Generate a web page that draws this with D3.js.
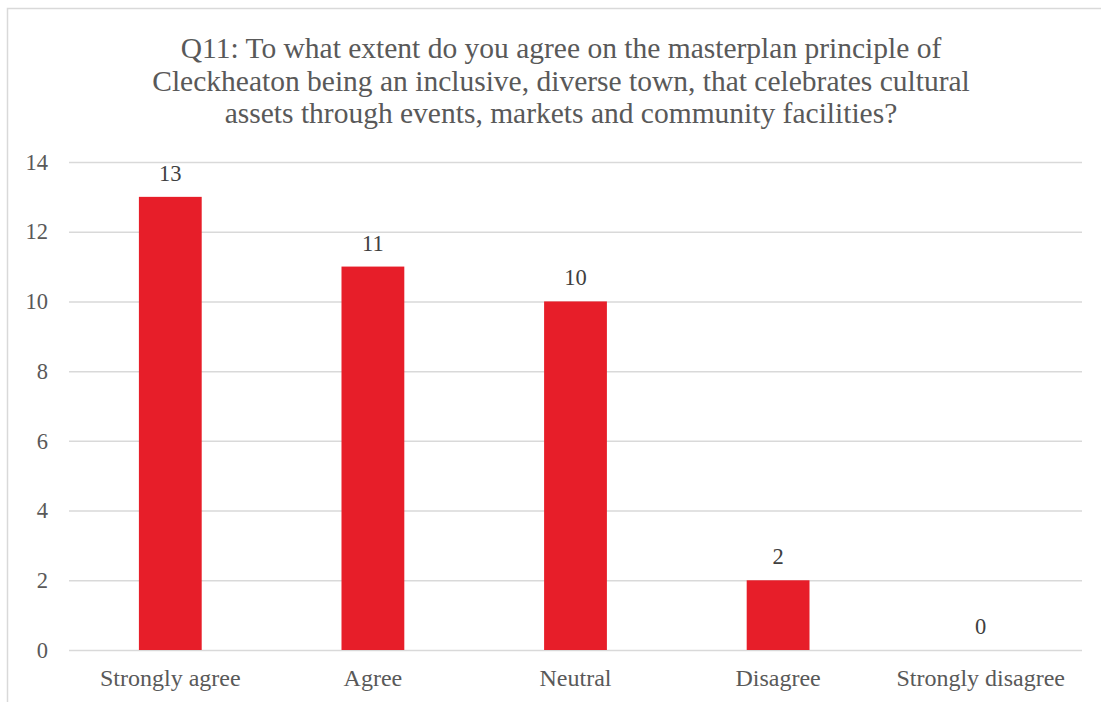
<!DOCTYPE html>
<html>
<head>
<meta charset="utf-8">
<script src="https://cdn.jsdelivr.net/npm/d3@7"></script>
<style>
  html, body { margin: 0; padding: 0; background: #fff; }
  svg { display: block; }
</style>
</head>
<body>
<svg id="chart" width="1101" height="702"></svg>
<script>
// Survey responses for Q11
const categories = ["Strongly agree", "Agree", "Neutral", "Disagree", "Strongly disagree"];
const counts = [13, 11, 10, 2, 0];
const yTicks = [0, 2, 4, 6, 8, 10, 12, 14];
const titleLines = [
  "Q11: To what extent do you agree on the masterplan principle of",
  "Cleckheaton being an inclusive, diverse town, that celebrates cultural",
  "assets through events, markets and community facilities?"
];

const W = 1101, H = 702;
const svg = d3.select("#chart");
const font = "'Liberation Serif', 'Times New Roman', serif";

// chart frame (extends past the visible window on right and bottom)
svg.append("rect")
  .attr("x", 7.5).attr("y", 8.5)
  .attr("width", W + 20).attr("height", H + 20)
  .attr("fill", "#fff")
  .attr("stroke", "#d9d9d9").attr("stroke-width", 1.5);

const plot = { left: 69, right: 1082, top: 162, bottom: 650 };

const x = d3.scaleBand()
  .domain(categories)
  .range([plot.left, plot.right])
  .paddingInner(0.69)
  .paddingOuter(0.345);

const y = d3.scaleLinear()
  .domain([0, 14])
  .range([plot.bottom, plot.top]);

// title
svg.append("g").selectAll("text")
  .data(titleLines)
  .join("text")
  .attr("x", 561)
  .attr("y", (d, i) => 58 + i * 32.5)
  .attr("text-anchor", "middle")
  .attr("font-family", font)
  .attr("font-size", 29.5)
  .attr("fill", "#595959")
  .text(d => d);

// gridlines + y labels via axis
const yAxis = d3.axisLeft(y)
  .tickValues(yTicks)
  .tickSize(-(plot.right - plot.left))
  .tickPadding(21)
  .tickFormat(d3.format("d"));

const gy = svg.append("g")
  .attr("transform", `translate(${plot.left},0)`)
  .call(yAxis);
gy.select(".domain").remove();
gy.selectAll(".tick line").attr("stroke", "#d9d9d9").attr("stroke-width", 1.5);
gy.selectAll(".tick text")
  .attr("font-family", font)
  .attr("font-size", 22.5)
  .attr("fill", "#595959");

// bars
svg.append("g").selectAll("rect")
  .data(counts)
  .join("rect")
  .attr("x", (d, i) => x(categories[i]))
  .attr("y", d => y(d))
  .attr("width", x.bandwidth())
  .attr("height", d => y(0) - y(d))
  .attr("fill", "#e71e29");

// value labels
svg.append("g").selectAll("text")
  .data(counts)
  .join("text")
  .attr("x", (d, i) => x(categories[i]) + x.bandwidth() / 2)
  .attr("y", d => y(d) - 16)
  .attr("text-anchor", "middle")
  .attr("font-family", font)
  .attr("font-size", 22.5)
  .attr("fill", "#404040")
  .text(d => d);

// category axis
const xAxis = d3.axisBottom(x).tickSize(0).tickPadding(19);
const gx = svg.append("g")
  .attr("transform", `translate(0,${plot.bottom})`)
  .call(xAxis);
gx.select(".domain").remove();
gx.selectAll(".tick text")
  .attr("font-family", font)
  .attr("font-size", 24)
  .attr("fill", "#595959");
</script>
</body>
</html>
